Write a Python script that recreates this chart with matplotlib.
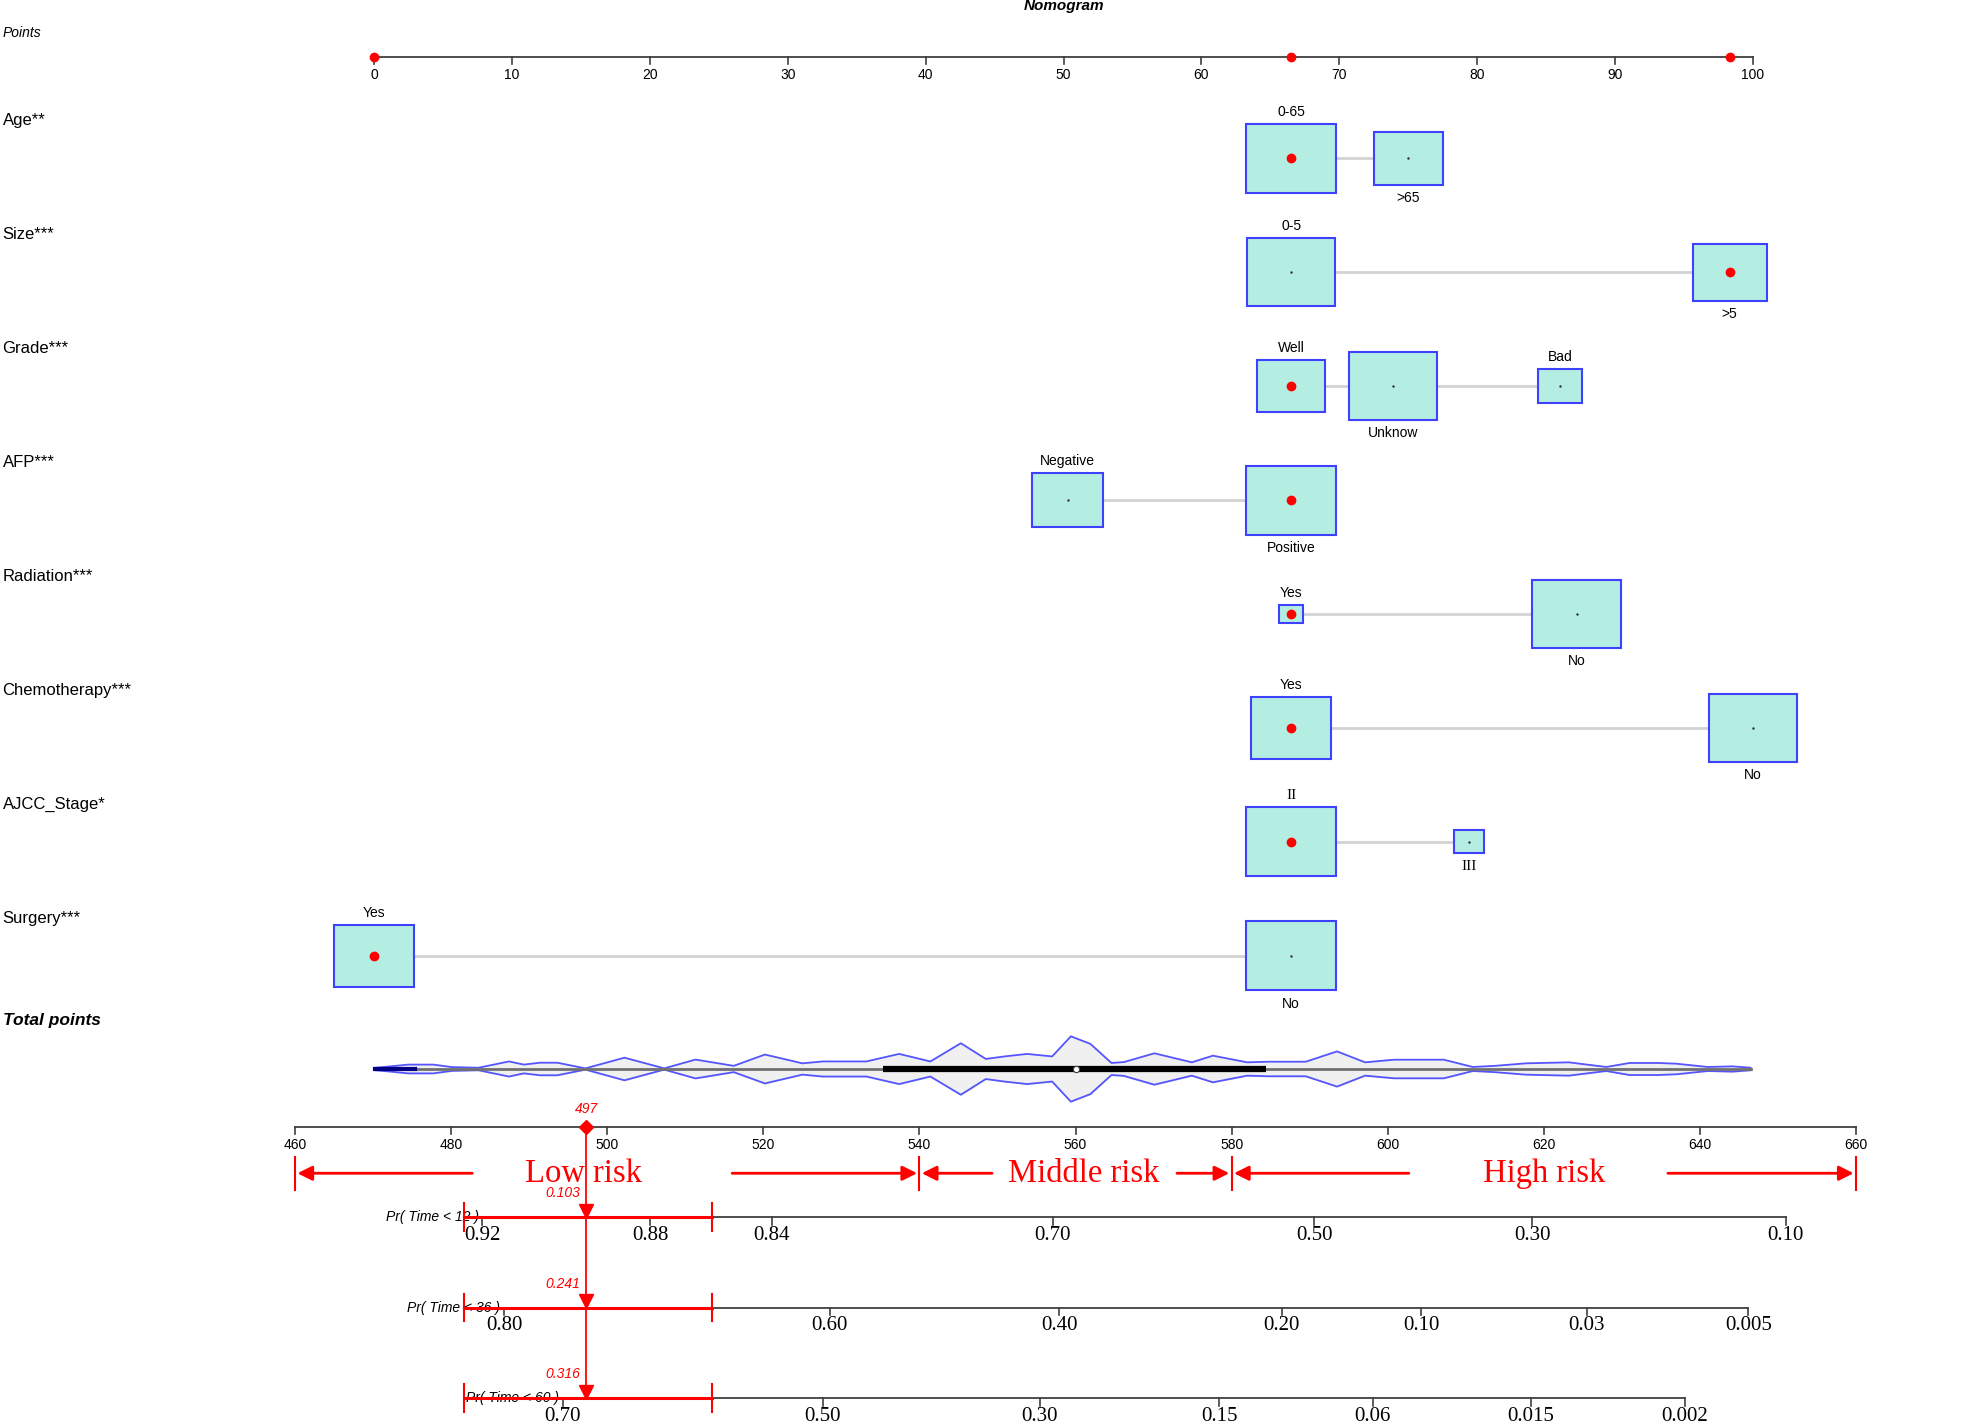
import numpy as np
import matplotlib.pyplot as plt
from matplotlib.patches import Rectangle

plt.rcParams['font.family'] = ['Liberation Sans', 'DejaVu Sans']

# ---- data ----
variables = ["Age**", "Size***", "Grade***", "AFP***", "Radiation***",
             "Chemotherapy***", "AJCC_Stage*", "Surgery***"]
levels = [["0-65", ">65"], ["0-5", ">5"], ["Well", "Unknow", "Bad"],
          ["Negative", "Positive"], ["Yes", "No"], ["Yes", "No"],
          ["II", "III"], ["Yes", "No"]]
level_points = [[66.5, 75.0], [66.5, 98.3], [66.5, 73.9, 86.0],
                [50.3, 66.5], [66.5, 87.2], [66.5, 100.0],
                [66.5, 79.4], [0.0, 66.5]]
# relative frequency of each level (box size)
level_freq = [[1.0, 0.76], [0.98, 0.82], [0.76, 0.98, 0.49],
              [0.78, 1.0], [0.27, 0.98], [0.89, 0.98],
              [1.0, 0.33], [0.89, 1.0]]
selected = [0, 1, 0, 1, 0, 0, 0, 0]

points_ticks = np.arange(0, 101, 10)
total_ticks = np.arange(460, 661, 20)
patient_total = sum(level_points[i][s] for i, s in enumerate(selected))

# distribution of total points: position and half width
dist_total = [470.3, 472.1, 474.5, 477.7, 480.1, 483.5, 487.4, 489.3, 491.4, 493.6,
              497.2, 502.2, 507.3, 511.3, 516.2, 520.2, 525.0, 527.6, 533.2, 537.4,
              541.4, 545.3, 548.5, 550.9, 553.8, 557.0, 559.4, 561.9, 564.6, 566.2,
              570.1, 574.9, 577.6, 582.0, 584.7, 589.5, 593.5, 597.1, 600.8, 607.2,
              610.9, 613.7, 617.7, 623.2, 628.0, 631.0, 634.6, 637.0, 641.0, 644.2,
              646.5]
dist_dens = [1.0, 2.0, 3.5, 3.5, 1.5, 1.0, 6.0, 3.5, 5.0, 5.0,
             0.5, 9.0, 0.5, 7.5, 2.5, 11.5, 4.5, 6.0, 6.0, 12.0,
             6.0, 20.5, 8.0, 10.0, 12.0, 10.0, 26.0, 20.0, 4.8, 5.5,
             12.5, 5.3, 10.6, 5.3, 5.8, 5.8, 14.0, 5.3, 7.4, 7.4,
             1.6, 2.5, 4.5, 5.3, 1.6, 4.8, 4.8, 4.2, 1.6, 2.1,
             1.0]
dist_quartiles = [535.3, 560.1, 584.4]

risk_cuts = [460, 540, 580, 660]
risk_names = ["Low risk", "Middle risk", "High risk"]
risk_text_at = [497.0, 561.0, 620.0]
risk_tails = [(482.7, 516.0), (549.3, 573.0), (602.7, 635.9)]

pr_labels = ["Pr( Time < 12 )", "Pr( Time < 36 )", "Pr( Time < 60 )"]
pr_tick_labels = [["0.92", "0.88", "0.84", "0.70", "0.50", "0.30", "0.10"],
                  ["0.80", "0.60", "0.40", "0.20", "0.10", "0.03", "0.005"],
                  ["0.70", "0.50", "0.30", "0.15", "0.06", "0.015", "0.002"]]
pr_tick_totals = [[484.0, 505.5, 521.1, 557.1, 590.6, 618.5, 651.0],
                  [486.8, 528.5, 557.9, 586.4, 604.3, 625.5, 646.2],
                  [494.3, 527.6, 555.4, 578.4, 598.1, 618.3, 638.1]]
pr_patient = ["0.103", "0.241", "0.316"]
pr_band = [481.6, 513.4]

# ---- layout ----
W, H = 1568, 1136
PX_PER_POINT = 10.98
P0 = 298
PX_PER_TOTAL = 6.215
T0 = 235

fig = plt.figure(figsize=(19.69, 14.27), dpi=100)
ax = fig.add_axes([0, 0, 1, 1])
ax.set_xlim(-P0 / PX_PER_POINT, (W - P0) / PX_PER_POINT)
ax.set_ylim(H, 0)
ax.axis('off')

ax2 = fig.add_axes([0, 0, 1, 1])
ax2.set_xlim(460 - T0 / PX_PER_TOTAL, 460 + (W - T0) / PX_PER_TOTAL)
ax2.set_ylim(H, 0)
ax2.axis('off')
ax2.patch.set_alpha(0)

label_x = -296 / PX_PER_POINT
axis_col = '#404040'
box_fill = '#b4eee2'
box_edge = '#4040ff'
serif = 'Liberation Serif'

ax.text(50, 5, "Nomogram", ha='center', va='center', fontsize=11,
        fontweight='bold', style='italic')

# Points axis
y_pts = 45
ax.text(label_x, 26, "Points", ha='left', va='center', fontsize=10, style='italic')
ax.plot([0, 100], [y_pts, y_pts], color=axis_col, lw=1.3)
for t in points_ticks:
    ax.plot([t, t], [y_pts, y_pts + 6], color=axis_col, lw=1.2)
    ax.text(t, y_pts + 9, str(t), ha='center', va='top', fontsize=10)
sel_points = sorted(set(level_points[i][s] for i, s in enumerate(selected)))
ax.plot(sel_points, [y_pts] * len(sel_points), 'o', color='red', ms=6, zorder=5)

# variable rows
BOX_W = 72 / PX_PER_POINT
BOX_H = 55
for i, var in enumerate(variables):
    y = 126 + i * 90.7
    ax.text(label_x, y - 30, var, ha='left', va='center', fontsize=12)
    pts = level_points[i]
    ax.plot([min(pts), max(pts)], [y, y], color='#d3d3d3', lw=2, zorder=1)
    for j, (lab, p, f) in enumerate(zip(levels[i], pts, level_freq[i])):
        w, h = f * BOX_W, f * BOX_H
        ax.add_patch(Rectangle((p - w / 2, y - h / 2), w, h, facecolor=box_fill,
                               edgecolor=box_edge, lw=1.5, zorder=2))
        if j == selected[i]:
            ax.plot(p, y, 'o', color='red', ms=6, zorder=3)
        else:
            ax.plot(p, y, '.', color='#303030', ms=1.5, zorder=3)
        kw = dict(ha='center', fontsize=10)
        if lab in ("II", "III"):
            kw.update(family=serif, fontsize=11)
        if j % 2 == 0:
            ax.text(p, y - h / 2 - 4, lab, va='bottom', **kw)
        else:
            ax.text(p, y + h / 2 + 5, lab, va='top', **kw)

# Total points
ax.text(label_x, 812, "Total points", ha='left', va='center', fontsize=12.5,
        fontweight='bold', style='italic')
y_dist = 851
dens = np.array(dist_dens)
ax2.fill_between(dist_total, y_dist - dens, y_dist + dens, color='#f0f0f0', zorder=1)
ax2.plot(dist_total, y_dist - dens, color='#5555ff', lw=1.3, zorder=2)
ax2.plot(dist_total, y_dist + dens, color='#5555ff', lw=1.3, zorder=2)
ax2.plot([dist_total[0], dist_total[-1]], [y_dist, y_dist], color='#707070', lw=2, zorder=3)
ax2.plot([dist_total[0], dist_total[0] + 5], [y_dist, y_dist], color='#000080', lw=3, zorder=3)
ax2.plot([dist_quartiles[0], dist_quartiles[2]], [y_dist, y_dist], color='black', lw=4.5,
         solid_capstyle='butt', zorder=4)
ax2.plot(dist_quartiles[1], y_dist, 'o', color='white', mec='#404040', ms=4.5, mew=0.8, zorder=5)

y_tot = 897
ax2.plot([total_ticks[0], total_ticks[-1]], [y_tot, y_tot], color=axis_col, lw=1.3)
for t in total_ticks:
    ax2.plot([t, t], [y_tot, y_tot + 6], color=axis_col, lw=1.2)
    ax2.text(t, y_tot + 9, str(t), ha='center', va='top', fontsize=10)
ax2.plot(patient_total, y_tot, 'D', color='red', ms=7, zorder=6)
ax2.text(patient_total, y_tot - 14, f"{patient_total:.0f}", ha='center', va='center',
         fontsize=10, style='italic', color='red')

# risk groups
y_risk = 934
for c in risk_cuts:
    ax2.plot([c, c], [y_risk - 13, y_risk + 13], color='red', lw=1.5)
for k, name in enumerate(risk_names):
    lo, hi = risk_cuts[k], risk_cuts[k + 1]
    ax2.text(risk_text_at[k], y_risk, name, ha='center', va='center', fontsize=23.5,
             color='red', family=serif)
    for tail, head in ((risk_tails[k][0], lo + 0.3), (risk_tails[k][1], hi - 0.3)):
        ax2.annotate("", xy=(head, y_risk), xytext=(tail, y_risk),
                     arrowprops=dict(arrowstyle='-|>', color='red', lw=2,
                                     mutation_scale=22, shrinkA=0, shrinkB=0))

# probability scales
pr_y = [969, 1041, 1113]
ax2.plot([patient_total, patient_total], [y_tot, pr_y[-1] - 2], color='red', lw=1.3, zorder=6)
for k, y in enumerate(pr_y):
    tt = pr_tick_totals[k]
    ax2.plot([tt[0], tt[-1]], [y, y], color=axis_col, lw=1.3)
    for lab, t in zip(pr_tick_labels[k], tt):
        ax2.plot([t, t], [y, y + 6], color=axis_col, lw=1.2)
        ax2.text(t, y + 7, lab, ha='center', va='top', fontsize=15, family=serif)
    ax2.text(tt[0] - 0.5, y, pr_labels[k], ha='right', va='center', fontsize=10,
             style='italic')
    ax2.plot(pr_band, [y, y], color='red', lw=2.2, zorder=5)
    for b in pr_band:
        ax2.plot([b, b], [y - 11, y + 11], color='red', lw=1.5, zorder=5)
    ax2.plot(patient_total, y - 5, 'v', color='red', ms=10, zorder=7)
    ax2.text(patient_total - 0.8, y - 19, pr_patient[k], ha='right', va='center',
             fontsize=10, style='italic', color='red')

fig.savefig("out.png", dpi=100)
